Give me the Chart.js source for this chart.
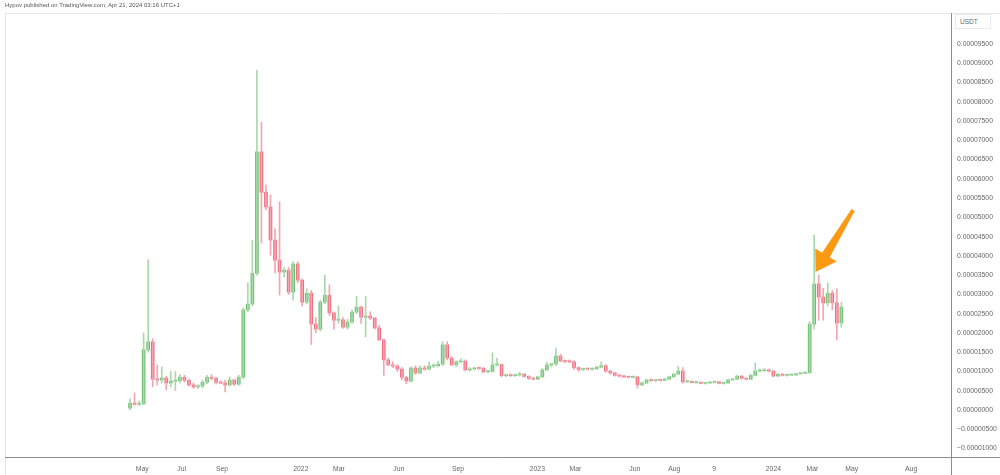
<!DOCTYPE html>
<html>
<head>
<meta charset="utf-8">
<script src="https://cdn.jsdelivr.net/npm/chart.js@4/dist/chart.umd.min.js"></script>
<style>
  html, body { margin: 0; padding: 0; background: #fff; }
  #wrap { position: relative; width: 1000px; height: 475px; overflow: hidden; }
  #header { position: absolute; left: 5px; top: 2px; font: 6px "Liberation Sans", Arial, sans-serif; color: #555; }
  #unit { position: absolute; left: 955px; top: 14px; width: 36px; height: 15px; border: 1px solid #e6e8ee;
    box-sizing: border-box; background: #fff; font: 6.5px "Liberation Sans", Arial, sans-serif; color: #666;
    line-height: 14px; padding-left: 4px; }
</style>
</head>
<body>
<div id="wrap">
  <canvas id="chart" width="1000" height="475"></canvas>
  <div id="header">Hypov published on TradingView.com, Apr 21, 2024 03:16 UTC+1</div>
  <div id="unit">USDT</div>
</div>
<script>
// weekly candles, values in 1e-8 USDT, first week = Apr 12 2021
var opens = [50,180,150,160,1560,1770,800,780,830,700,750,760,850,770,650,600,620,720,850,820,
  720,700,650,780,670,850,2600,2750,3550,6700,5650,5270,4410,3890,3580,3630,3060,3790,3370,2800,
  3030,2230,2100,2800,2980,2520,2330,2340,2150,2280,2540,2670,2410,2440,2390,2130,1820,1300,1170,1140,
  1060,850,750,1090,960,1090,1060,1140,1150,1190,1690,1350,1170,1250,1270,1040,1065,1090,1080,990,
  1000,1170,1180,890,900,890,910,930,870,820,800,860,1040,1170,1200,1400,1270,1260,1250,1100,
  1050,1070,1060,1070,1110,1150,1010,960,900,880,860,850,860,650,700,780,760,780,770,800,
  860,930,1010,730,740,710,720,690,700,720,730,690,700,780,800,880,820,800,900,1010,
  1020,1040,1010,880,930,900,905,910,940,950,970,2230,3270,2930,2780,3030,2780,2260]
var highs = [290,440,230,2000,3900,1850,1170,1120,880,1000,1000,920,900,800,700,650,780,900,920,850,
  760,770,860,800,900,2650,3300,4400,8820,7470,5840,5580,4700,5400,3700,3700,3850,3850,3400,3150,
  3100,2400,2850,3500,3250,2550,2700,2400,2350,2600,2950,2700,2950,2550,2400,2200,1850,1350,1250,1180,
  1100,870,1120,1150,1150,1150,1250,1200,1260,1770,1770,1380,1280,1330,1300,1100,1110,1120,1110,1030,
  1480,1350,1200,930,940,930,980,950,890,850,880,1080,1250,1210,1610,1450,1300,1300,1280,1120,
  1090,1090,1090,1140,1250,1180,1030,980,920,900,880,880,870,730,800,810,800,800,830,880,
  950,1130,1100,780,760,740,730,720,730,740,740,710,800,820,900,890,830,920,1220,1070,
  1070,1060,1030,950,940,920,930,960,970,990,2300,4540,3500,3160,3300,3100,3150,2800]
var lows = [0,120,110,140,1500,600,650,700,520,600,500,700,720,620,560,560,580,680,780,680,
  680,470,620,640,640,820,2550,2700,3500,4330,5200,4020,3560,2980,3450,3000,2850,3300,2700,2750,
  1700,2000,2050,2750,2450,2100,2250,2120,2100,2250,2500,2250,1900,2350,2100,1800,900,1150,1100,1000,
  780,680,730,920,940,1030,1040,1100,1120,1150,1300,1150,1130,1220,1010,1010,1040,1050,960,960,
  980,1140,860,860,870,870,880,850,790,780,790,840,1020,1120,1150,1250,1230,1220,1050,1000,
  1030,1040,1030,1050,1100,980,930,880,850,840,830,830,570,630,690,740,740,750,760,790,
  850,920,700,720,700,690,680,670,690,700,680,670,690,770,790,800,780,790,890,990,
  1000,990,860,870,880,880,890,900,930,940,950,2100,2330,2330,2700,2600,1820,2150]
var closes = [180,150,160,1560,1770,800,780,830,700,750,760,850,770,650,600,620,720,850,820,720,
  700,650,780,670,850,2600,2750,3550,6700,5650,5270,4410,3890,3580,3630,3060,3790,3370,2800,3030,
  2230,2100,2800,2980,2520,2330,2340,2150,2280,2540,2670,2410,2440,2390,2130,1820,1300,1170,1140,1060,
  850,750,1090,960,1090,1060,1140,1150,1190,1690,1350,1170,1250,1270,1040,1065,1090,1080,990,1000,
  1170,1180,890,900,890,910,930,870,820,800,860,1040,1170,1200,1400,1270,1260,1250,1100,1050,
  1070,1060,1070,1110,1150,1010,960,900,880,860,850,860,650,700,780,760,780,770,800,860,
  930,1010,730,740,710,720,690,700,720,730,690,700,780,800,880,820,800,900,1010,1020,
  1040,1010,880,930,900,905,910,940,950,970,2230,3270,2930,2780,3030,2780,2260,2670]

// axis ticks (x in weeks from first candle)
var xTickWeeks = [2.7, 11.4, 20.3, 37.7, 46.1, 59.3, 72.4, 89.9, 98.3, 111.4, 120.1, 128.9, 142.0, 150.6, 159.3, 172.4]
var xTickLabels = ['May', 'Jul', 'Sep', '2022', 'Mar', 'Jun', 'Sep', '2023', 'Mar', 'Jun', 'Aug', '9', '2024', 'Mar', 'May', 'Aug']
var yTicks = [9500, 9000, 8500, 8000, 7500, 7000, 6500, 6000, 5500, 5000, 4500, 4000, 3500, 3000,
  2500, 2000, 1500, 1000, 500, 0, -500, -1000]

// arrow annotation (data coords)
var arrowTail = { x: 159.6, y: 5190 }
var arrowTip = { x: 151.3, y: 3580 }

var UP = '#6dbf6f', DOWN = '#ef6b7d'
var UP_WICK = '#a9d9aa', DOWN_WICK = '#f3a5b0'

function isUp(i) { return closes[i] >= opens[i] }

var wickData = highs.map((h, i) => ({ x: i, y: [lows[i], h] }))
var bodyData = opens.map((o, i) => ({ x: i, y: [o, closes[i]] }))

var font = { family: '"Liberation Sans", Arial, sans-serif', size: 6.8 }

var framePlugin = {
  id: 'frame',
  afterDraw(chart) {
    let ctx = chart.ctx
    let a = chart.chartArea
    ctx.save()
    ctx.strokeStyle = '#e6e8ee'
    ctx.lineWidth = 1
    ctx.beginPath()
    ctx.moveTo(a.left + 0.5, 475)
    ctx.lineTo(a.left + 0.5, a.top + 0.5)
    ctx.lineTo(1000, a.top + 0.5)
    ctx.stroke()

    ctx.strokeStyle = '#8a8d96'
    ctx.beginPath()
    ctx.moveTo(a.left, a.bottom + 0.5)
    ctx.lineTo(1000, a.bottom + 0.5)
    ctx.moveTo(a.right + 0.5, a.top)
    ctx.lineTo(a.right + 0.5, 475)
    ctx.stroke()

    // arrow
    let xs = chart.scales.x, ys = chart.scales.y
    let tx = xs.getPixelForValue(arrowTail.x), ty = ys.getPixelForValue(arrowTail.y)
    let px = xs.getPixelForValue(arrowTip.x), py = ys.getPixelForValue(arrowTip.y)
    let dx = px - tx, dy = py - ty
    let len = Math.sqrt(dx * dx + dy * dy)
    let ux = dx / len, uy = dy / len
    let nx = -uy, ny = ux
    let headLen = 20, headHalf = 12.5
    let bx = px - ux * headLen, by = py - uy * headLen
    ctx.fillStyle = '#fb9a12'
    ctx.beginPath()
    ctx.moveTo(tx + nx * 1.8, ty + ny * 1.8)
    ctx.lineTo(bx + nx * 4.5, by + ny * 4.5)
    ctx.lineTo(bx + nx * headHalf, by + ny * headHalf)
    ctx.lineTo(px, py)
    ctx.lineTo(bx - nx * headHalf, by - ny * headHalf)
    ctx.lineTo(bx - nx * 4.5, by - ny * 4.5)
    ctx.lineTo(tx - nx * 1.8, ty - ny * 1.8)
    ctx.closePath()
    ctx.fill()
    ctx.restore()
  }
}

new Chart(document.getElementById('chart'), {
  type: 'bar',
  data: {
    datasets: [
      {
        data: wickData,
        grouped: false,
        clip: 0,
        barThickness: 1,
        backgroundColor: ctx => isUp(ctx.dataIndex) ? UP_WICK : DOWN_WICK,
        borderWidth: 0
      },
      {
        data: bodyData,
        grouped: false,
        clip: 0,
        barThickness: 3,
        minBarLength: 1,
        backgroundColor: ctx => isUp(ctx.dataIndex) ? UP : DOWN,
        borderWidth: 0
      }
    ]
  },
  options: {
    responsive: false,
    animation: false,
    devicePixelRatio: 1,
    layout: { padding: { left: 5, top: 13, right: 0, bottom: 0 } },
    plugins: {
      legend: { display: false },
      tooltip: { enabled: false }
    },
    scales: {
      x: {
        type: 'linear',
        offset: false,
        min: -27.6,
        max: 181.2,
        grid: { display: false },
        border: { display: false },
        afterFit: s => { s.height = 18 },
        afterBuildTicks: s => { s.ticks = xTickWeeks.map(v => ({ value: v })) },
        ticks: {
          autoSkip: false,
          maxRotation: 0,
          padding: 0,
          color: '#666',
          font: font,
          callback: (v, i) => xTickLabels[i]
        }
      },
      y: {
        position: 'right',
        min: -1220,
        max: 10304,
        grid: { display: false, drawTicks: false },
        border: { display: false },
        afterFit: s => { s.width = 49 },
        afterBuildTicks: s => { s.ticks = yTicks.map(v => ({ value: v })) },
        ticks: {
          padding: 6,
          color: '#666',
          font: font,
          callback: v => (v * 1e-8).toFixed(8).replace('-', '\u2212')
        }
      }
    }
  },
  plugins: [framePlugin]
})
</script>
</body>
</html>
